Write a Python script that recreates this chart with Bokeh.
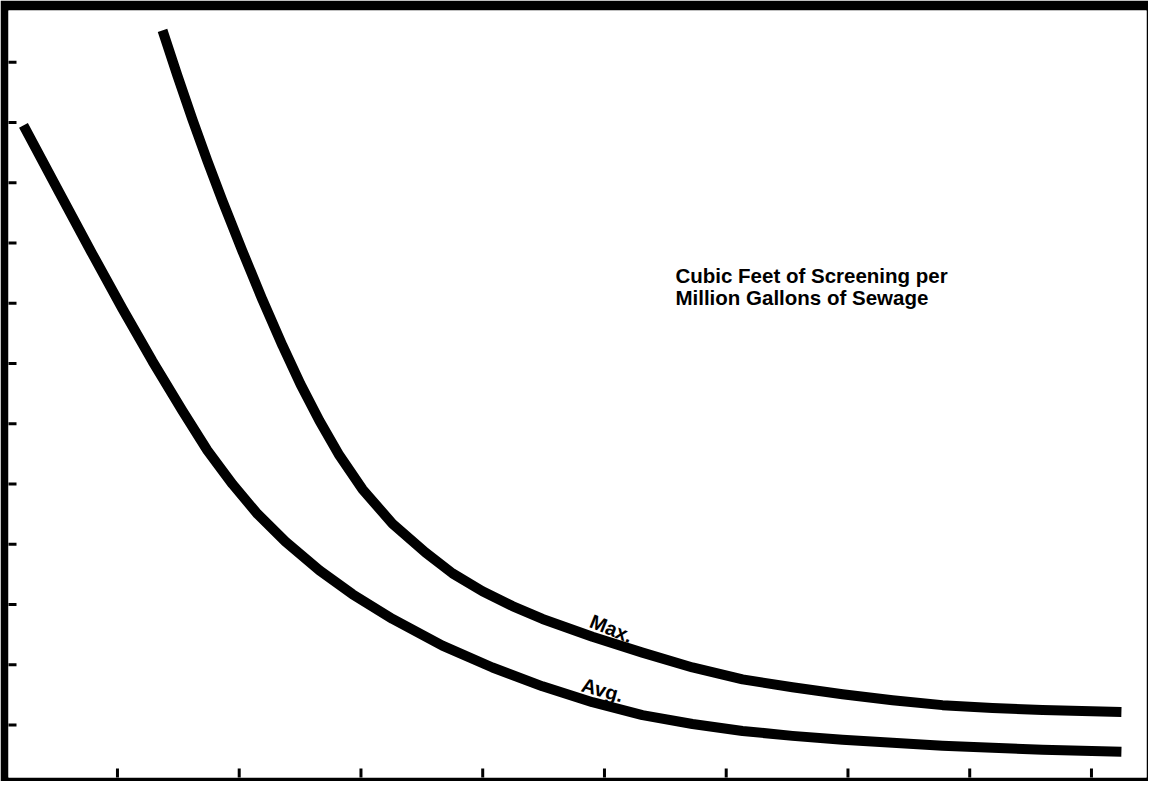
from bokeh.plotting import figure
from bokeh.models import Range1d, Label
from bokeh.embed import file_html
from bokeh.resources import INLINE

# tick positions (no labels are printed on the original chart)
x_ticks = [1, 2, 3, 4, 5, 6, 7, 8, 9]
y_ticks = [1, 2, 3, 4, 5, 6, 7, 8, 9, 10, 11, 12]

# Avg. curve
avg_x = [0.228, 0.524, 0.795, 1.041, 1.288, 1.534, 1.739, 1.945, 2.150, 2.380, 2.659, 2.930,
         3.259, 3.669, 4.080, 4.491, 4.901, 5.312, 5.723, 6.134, 6.544, 6.955, 7.366, 7.776,
         8.187, 8.598, 9.246]
avg_y = [10.951, 9.832, 8.813, 7.908, 7.036, 6.214, 5.556, 4.997, 4.503, 4.043, 3.566, 3.171,
         2.760, 2.316, 1.954, 1.641, 1.378, 1.164, 1.016, 0.901, 0.819, 0.753, 0.704, 0.655,
         0.622, 0.589, 0.556]

# Max. curve
max_x = [1.370, 1.493, 1.616, 1.739, 1.862, 2.027, 2.191, 2.355, 2.503, 2.659, 2.823, 3.012,
         3.259, 3.530, 3.752, 3.998, 4.244, 4.491, 4.901, 5.312, 5.723, 6.134, 6.544, 6.955,
         7.366, 7.776, 8.187, 8.598, 9.246]
max_y = [12.530, 11.773, 11.049, 10.359, 9.701, 8.862, 8.056, 7.299, 6.658, 6.049, 5.474, 4.914,
         4.339, 3.862, 3.516, 3.220, 2.974, 2.760, 2.464, 2.201, 1.954, 1.757, 1.625, 1.510,
         1.411, 1.329, 1.280, 1.247, 1.214]

curve_labels = ["Max.", "Avg."]
note_lines = ["Cubic Feet of Screening per", "Million Gallons of Sewage"]

FONT = "Liberation Sans"
X_LO, X_HI = 0.105, 9.452
Y_LO, Y_HI = 0.128, 12.859

p = figure(width=1148, height=781, output_backend="svg", toolbar_location=None,
           x_range=Range1d(X_LO, X_HI), y_range=Range1d(Y_LO, Y_HI),
           min_border_left=8, min_border_right=2, min_border_top=10, min_border_bottom=4)
p.border_fill_color = "black"
p.background_fill_color = "white"
p.outline_line_color = None
p.xgrid.visible = False
p.ygrid.visible = False
p.xaxis.visible = False
p.yaxis.visible = False

# inward tick marks along the bottom and left edges of the frame
p.rect(x=x_ticks, y=[Y_LO] * len(x_ticks), width=3, height=18,
       width_units="screen", height_units="screen", fill_color="black", line_color=None)
p.rect(x=[X_LO] * len(y_ticks), y=y_ticks, width=16, height=3,
       width_units="screen", height_units="screen", fill_color="black", line_color=None)

p.line(max_x, max_y, line_width=10, line_color="black", line_cap="butt", line_join="round")
p.line(avg_x, avg_y, line_width=10, line_color="black", line_cap="butt", line_join="round")

# curve labels
p.add_layout(Label(x=5.057, y=2.60, text=curve_labels[0], angle=-0.38,
                   text_align="center", text_baseline="alphabetic",
                   text_font=FONT, text_font_size="20px", text_font_style="bold",
                   text_color="black"))
p.add_layout(Label(x=4.984, y=1.58, text=curve_labels[1], angle=-0.27,
                   text_align="center", text_baseline="alphabetic",
                   text_font=FONT, text_font_size="20px", text_font_style="bold",
                   text_color="black"))

# note
p.add_layout(Label(x=5.583, y=8.467, text=note_lines[0], text_align="left",
                   text_baseline="alphabetic", text_font=FONT, text_font_size="20.5px",
                   text_font_style="bold", text_color="black"))
p.add_layout(Label(x=5.583, y=8.089, text=note_lines[1], text_align="left",
                   text_baseline="alphabetic", text_font=FONT, text_font_size="20.5px",
                   text_font_style="bold", text_color="black"))

open("out.html", "w").write(file_html(p, INLINE))
